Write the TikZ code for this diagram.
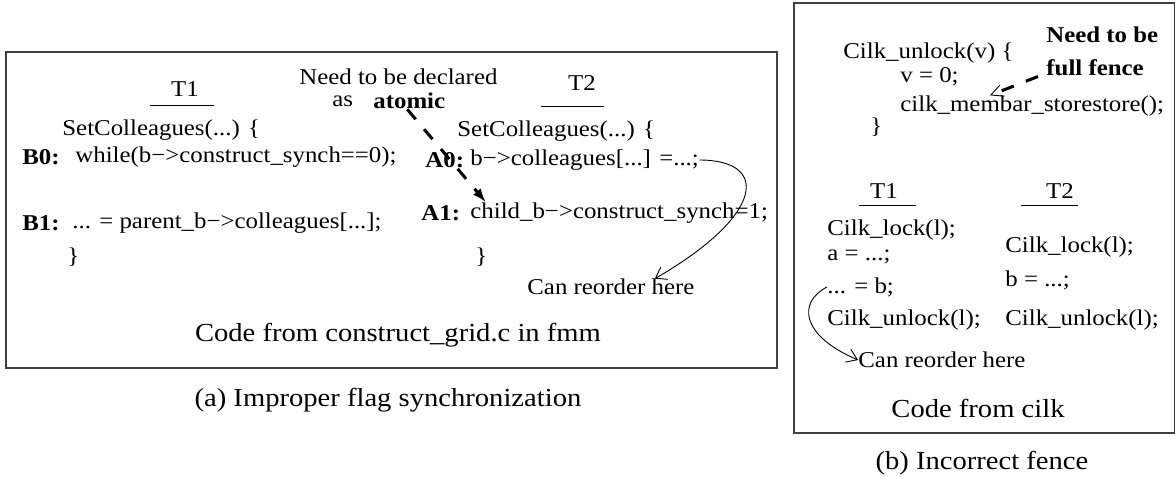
\documentclass[tikz,border=0pt]{standalone}
\usepackage{fontspec}
\setmainfont{Liberation Serif}[FakeStretch=1.1]
\usetikzlibrary{arrows.meta}

\newcommand{\codesize}{\fontsize{11.3}{13.5}\selectfont}
\newcommand{\figsize}{\fontsize{13}{15.5}\selectfont}

\tikzset{
  codetxt/.style={inner sep=0pt, font=\codesize},
  tagtxt/.style={inner sep=0pt, font=\codesize\bfseries},
  titletxt/.style={inner sep=0pt, font=\figsize},
  boxline/.style={line width=0.7pt, draw=black!75},
  headrule/.style={line width=0.5pt},
  fencearrow/.style={line width=1.5pt, dash pattern=on 6.5pt off 6.5pt},
  reorderarrow/.style={line width=0.45pt, -{Straight Barb[length=5pt,width=7pt]}}
}

\begin{document}
\begin{tikzpicture}[x=0.5pt,y=-0.5pt]
\useasboundingbox (0,0) rectangle (1175,477);

% (a) flag synchronization
\draw[boxline] (6,52) rectangle (777,368);
\node (tA1) [codetxt] at (185,89) {T1};
\node (tA2) [codetxt] at (582,83) {T2};
\draw[headrule] ([xshift=-17.5pt,yshift=-4.25pt]tA1.south) -- ++(32pt,0pt);
\draw[headrule] ([xshift=-20.5pt,yshift=-7.75pt]tA2.south) -- ++(31.5pt,0pt);

\node (scB) [codetxt,right] at (62,130) {SetColleagues(...) \{};
\node (B0) [tagtxt,right] at (22,157) {B0:};
\node (b0) [codetxt,right] at (75,157) {while(b−>construct\_synch==0);};
\node (B1) [tagtxt,right] at (22,223) {B1:};
\node (b1) [codetxt,right] at (72,223) {... = parent\_b−>colleagues[...];};
\node (endB) [codetxt,right] at (67,257) {\}};

\node (needA) [codetxt,right] at (299,77) {Need to be declared};
\node (asA) [codetxt,right] at (332,101) {as};
\node (atomic) [tagtxt,right] at (373,101) {atomic};

\node (scA) [codetxt,right] at (457,131) {SetColleagues(...) \{};
\node (A0) [tagtxt,right] at (425,160) {A0:};
\node (a0) [codetxt,right] at (470,160) {b−>colleagues[...] =...;};
\node (A1) [tagtxt,right] at (421,213) {A1:};
\node (a1) [codetxt,right] at (470,213) {child\_b−>construct\_synch=1;};
\node (endA) [codetxt,right] at (475,257) {\}};
\node (reorderA) [codetxt,right] at (527,287) {Can reorder here};

\node (srcA) [titletxt] at (398,335) {Code from construct\_grid.c in fmm};
\node (capA) [titletxt] at (388,400) {(a) Improper flag synchronization};

\draw[fencearrow,-{Latex[length=7pt,width=5pt]}] ([xshift=-1pt]atomic.south) -- ([xshift=8pt]a1.north west);
\draw[reorderarrow] (a0.east) .. controls (770,160) and (765,215) .. ([xshift=22pt]reorderA.north);

% (b) incorrect fence
\draw[boxline] (794,3) rectangle (1175,433);
\node (unlock) [codetxt,right] at (843,53) {Cilk\_unlock(v) \{};
\node (vzero) [codetxt,right] at (900,77) {v = 0;};
\node (membar) [codetxt,right] at (900,106) {cilk\_membar\_storestore();};
\node (endU) [codetxt,right] at (870,127) {\}};
\node (needB) [tagtxt,right] at (1046,35) {Need to be};
\node (fence) [tagtxt,right] at (1046,68) {full fence};

\node (tB1) [codetxt] at (884,191) {T1};
\node (tB2) [codetxt] at (1060,191) {T2};
\draw[headrule] ([xshift=-12.5pt,yshift=-3.25pt]tB1.south) -- ++(28.5pt,0pt);
\draw[headrule] ([xshift=-19.5pt,yshift=-3.25pt]tB2.south) -- ++(28.5pt,0pt);

\node (lock1) [codetxt,right] at (827,230) {Cilk\_lock(l);};
\node (wa) [codetxt,right] at (827,257) {a = ...;};
\node (rb) [codetxt,right] at (827,287) {... = b;};
\node (unl1) [codetxt,right] at (827,320) {Cilk\_unlock(l);};
\node (lock2) [codetxt,right] at (1005,247) {Cilk\_lock(l);};
\node (wb) [codetxt,right] at (1005,280) {b = ...;};
\node (unl2) [codetxt,right] at (1005,320) {Cilk\_unlock(l);};
\node (reorderB) [codetxt,right] at (858,360) {Can reorder here};

\node (srcB) [titletxt] at (978,408) {Code from cilk};
\node (capB) [titletxt] at (982,463) {(b) Incorrect fence};

\draw[fencearrow,-{Straight Barb[line width=0.45pt,length=6pt,width=6pt]}] ([xshift=-4pt]fence.south west) -- ([xshift=45pt]membar.north west);
\draw[reorderarrow] (rb.west) .. controls (798,302) and (800,335) .. (reorderB.west);
\end{tikzpicture}
\end{document}
